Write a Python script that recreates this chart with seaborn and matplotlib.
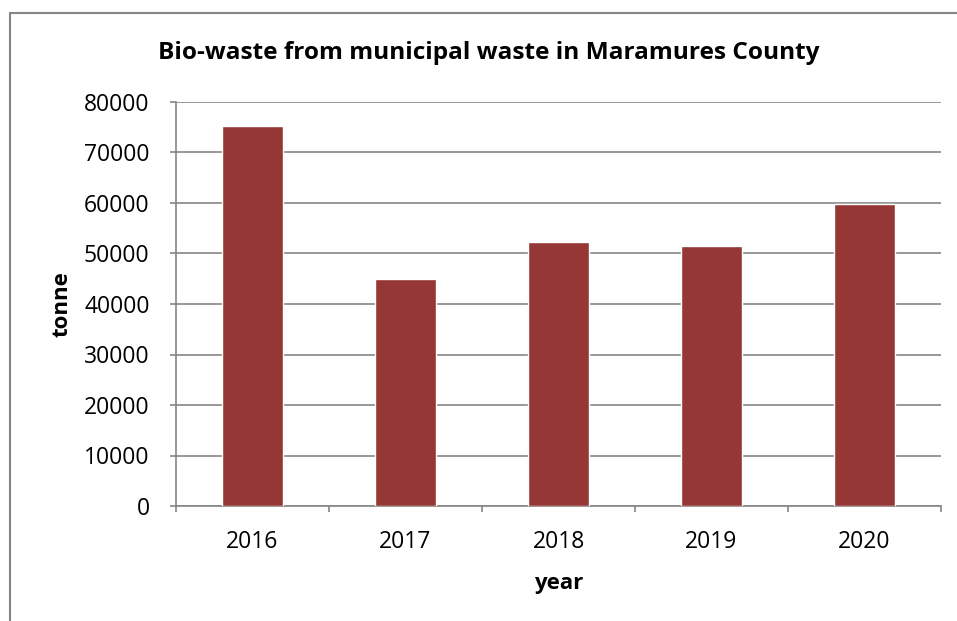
import matplotlib
matplotlib.use("Agg")
import matplotlib.pyplot as plt
import seaborn as sns
import pandas as pd
from matplotlib.patches import Rectangle

years = ["2016", "2017", "2018", "2019", "2020"]
values = [75300, 45000, 52300, 51400, 59900]
yticks = [0, 10000, 20000, 30000, 40000, 50000, 60000, 70000, 80000]

sns.set_theme(style="white")
plt.rcParams['font.family'] = ['Open Sans', 'DejaVu Sans']
plt.rcParams['text.color'] = 'black'
plt.rcParams['axes.labelcolor'] = 'black'

df = pd.DataFrame({"year": years, "tonne": values})

fig = plt.figure(figsize=(9.57, 6.21), dpi=100)
ax = fig.add_axes([176/957, 1-506/621, (941-176)/957, (506-102)/621])

sns.barplot(data=df, x="year", y="tonne", color="#953735", width=0.4,
            saturation=1, ax=ax, zorder=3)

ax.set_ylim(0, 80000)
ax.set_xlim(-0.5, len(years) - 0.5)
ax.set_yticks(yticks)
ax.set_yticklabels([str(v) for v in yticks])
ax.yaxis.grid(True, color="#868686", linewidth=1.2, zorder=0)
ax.set_axisbelow(True)

for s in ["top", "right"]:
    ax.spines[s].set_visible(False)
for s in ["left", "bottom"]:
    ax.spines[s].set_color("#868686")
    ax.spines[s].set_linewidth(1.2)

ax.tick_params(axis="y", which="major", left=True, length=4, width=1.2,
               color="#868686", labelsize=16.5, pad=15, labelcolor="black")
ax.set_xticks(range(len(years)))
ax.set_xticklabels(years)
ax.tick_params(axis="x", which="major", bottom=False, length=0, labelsize=16.5,
               pad=17, labelcolor="black")
ax.set_xticks([i - 0.5 for i in range(len(years) + 1)], minor=True)
ax.tick_params(axis="x", which="minor", bottom=True, length=4, width=1.2,
               color="#868686")

ax.set_xlabel("year", fontsize=16, fontweight="bold", labelpad=14, color="black")
ax.set_ylabel("tonne", fontsize=16, fontweight="bold", labelpad=8, color="black")

fig.text(489/957, 1-53/621, "Bio-waste from municipal waste in Maramures County",
         ha="center", va="center", fontsize=17.6, fontweight="bold", color="black")

fig.patches.append(Rectangle((10/957, -0.1), 1.2, (621-13)/621 + 0.1,
                             transform=fig.transFigure, fill=False,
                             edgecolor="#868686", linewidth=1.5))

fig.savefig("out.png", dpi=100)
